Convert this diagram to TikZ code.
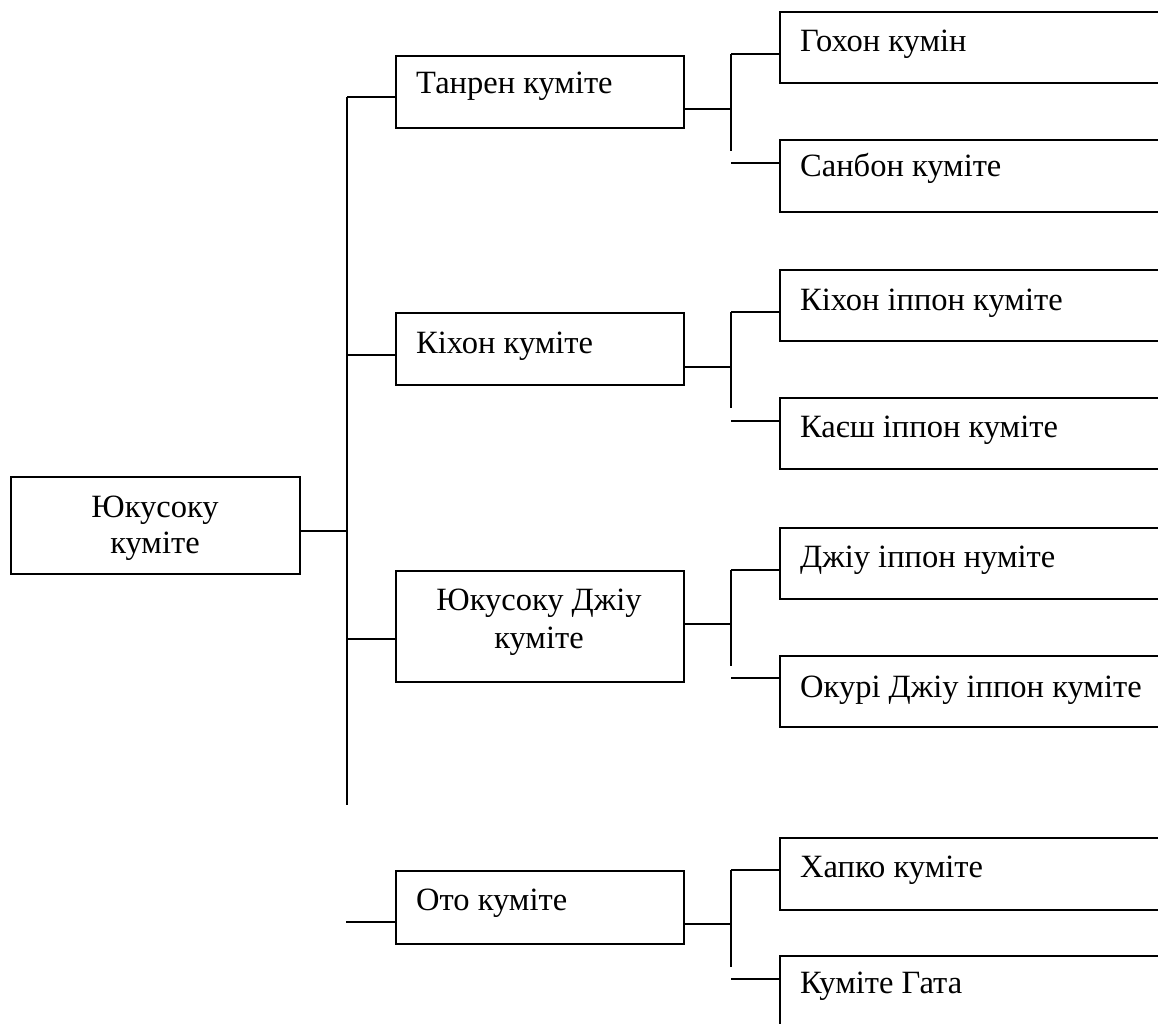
\documentclass[tikz,border=0pt]{standalone}
\usepackage{fontspec}
\setmainfont{Liberation Serif}
\begin{document}
\begin{tikzpicture}[x=1pt,y=-1pt,
  box/.style={draw, rectangle, inner sep=0pt, anchor=north west, line width=2pt},
  lbl/.style={inner sep=0pt, font=\fontsize{32.5}{38}\selectfont},
  con/.style={line width=2pt}]
\fill[white] (0,0) rectangle (1158,1024);
\useasboundingbox (0,0) rectangle (1158,1024);
\clip (0,0) rectangle (1158,1024);

% boxes
\node[box, minimum width=289pt, minimum height=97pt] (root) at (10,476) {};
\node[box, minimum width=288pt, minimum height=72pt] (tanren) at (395,55) {};
\node[box, minimum width=288pt, minimum height=72pt] (kihon) at (395,312) {};
\node[box, minimum width=288pt, minimum height=111pt] (ydj) at (395,570) {};
\node[box, minimum width=288pt, minimum height=73pt] (oto) at (395,870) {};
\node[box, minimum width=420pt, minimum height=71pt] (goh) at (779,11) {};
\node[box, minimum width=420pt, minimum height=72pt] (sanb) at (779,139) {};
\node[box, minimum width=420pt, minimum height=71pt] (kip) at (779,269) {};
\node[box, minimum width=420pt, minimum height=71pt] (kaesh) at (779,397) {};
\node[box, minimum width=420pt, minimum height=71pt] (dzh) at (779,527) {};
\node[box, minimum width=420pt, minimum height=71pt] (okur) at (779,655) {};
\node[box, minimum width=420pt, minimum height=72pt] (hapko) at (779,837) {};
\node[box, minimum width=420pt, minimum height=100pt] (gata) at (779,955) {};

% labels
\node[lbl, anchor=base] (rootT1) at (155,517) {Юкусоку};
\node[lbl, anchor=base] (rootT2) at (155,553) {куміте};
\node[lbl, anchor=base west] (tanrenT) at (416,94) {Танрен куміте};
\node[lbl, anchor=base west] (kihonT) at (416,353) {Кіхон куміте};
\node[lbl, anchor=base] (ydjT1) at (539,610) {Юкусоку Джіу};
\node[lbl, anchor=base] (ydjT2) at (539,648) {куміте};
\node[lbl, anchor=base west] (otoT) at (416,910) {Ото куміте};
\node[lbl, anchor=base west] (gohT) at (800,52) {Гохон кумін};
\node[lbl, anchor=base west] (sanbT) at (800,177) {Санбон куміте};
\node[lbl, anchor=base west] (kipT) at (800,310) {Кіхон іппон куміте};
\node[lbl, anchor=base west] (kaeshT) at (800,437) {Каєш іппон куміте};
\node[lbl, anchor=base west] (dzhT) at (800,567) {Джіу іппон нуміте};
\node[lbl, anchor=base west] (okurT) at (800,697) {Окурі Джіу іппон куміте};
\node[lbl, anchor=base west] (hapkoT) at (800,877) {Хапко куміте};
\node[lbl, anchor=base west] (gataT) at (800,993) {Куміте Гата};

% main trunk
\coordinate (mtop) at (347,97);
\coordinate (mbot) at (347,805);
\coordinate (mroot) at (347,531);
\coordinate (mkih) at (347,355);
\coordinate (mydj) at (347,639);
\coordinate (moto) at (346,922);
\draw[con] (mtop) -- (mbot);
\draw[con] (root.east |- mroot) -- (mroot);
\draw[con] (mtop) -- (tanren.west |- mtop);
\draw[con] (mkih) -- (kihon.west |- mkih);
\draw[con] (mydj) -- (ydj.west |- mydj);
\draw[con] (moto) -- (oto.west |- moto);

% sub trees
\foreach \p/\a/\b/\r/\t/\e/\s in {tanren/goh/sanb/109/54/151/163,
                                   kihon/kip/kaesh/367/312/408/421,
                                   ydj/dzh/okur/624/570/666/678,
                                   oto/hapko/gata/924/870/967/979}{
  \coordinate (\p-r) at (731,\r);
  \coordinate (\p-t) at (731,\t);
  \coordinate (\p-e) at (731,\e);
  \coordinate (\p-s) at (731,\s);
  \draw[con] (\p.east |- \p-r) -- (\p-r);
  \draw[con] (\p-t) -- (\p-e);
  \draw[con] (\p-t) -- (\a.west |- \p-t);
  \draw[con] (\p-s) -- (\b.west |- \p-s);
}
\end{tikzpicture}
\end{document}
